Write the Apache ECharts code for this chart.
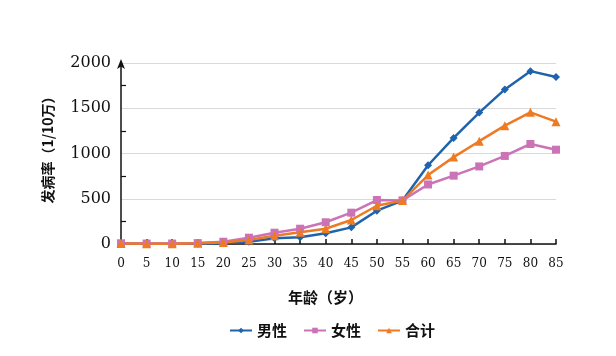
<!DOCTYPE html>
<html><head><meta charset="utf-8">
<script src="https://cdn.jsdelivr.net/npm/echarts@6/dist/echarts.min.js"></script>
<style>html,body{margin:0;padding:0;background:#fff}#c{width:616px;height:356px}</style>
</head><body><div id="c"></div>
<script>
const ages = ['0','5','10','15','20','25','30','35','40','45','50','55','60','65','70','75','80','85'];
const male   = [5, 3, 3, 4, 8, 25, 63, 74, 118, 184, 368, 480, 870, 1172, 1452, 1708, 1910, 1845];
const female = [8, 5, 5, 10, 25, 70, 125, 169, 240, 346, 486, 482, 658, 755, 857, 973, 1105, 1042];
const total  = [6, 4, 4, 7, 16, 44, 92, 129, 168, 265, 423, 480, 762, 960, 1136, 1308, 1455, 1352];
const yTicks = [0, 500, 1000, 1500, 2000];
const seriesNames = ['男性', '女性', '合计'];

const chart = echarts.init(document.getElementById('c'), null, {renderer: 'canvas'});
const serif = 'DejaVu Serif';
const cjk = '"Noto Sans CJK SC"';
chart.setOption({
  animation: false,
  backgroundColor: '#fff',
  color: ['#1F63AD', '#CB73B6', '#EE7A22'],
  grid: {left: 121, right: 60, top: 63, bottom: 112, containLabel: false},
  legend: {
    data: seriesNames, bottom: 13, left: 224, itemGap: 16,
    itemWidth: 22, itemHeight: 7,
    textStyle: {fontFamily: cjk, fontSize: 15, fontWeight: 'bold', color: '#111'}
  },
  xAxis: {
    type: 'category', data: ages, boundaryGap: false,
    name: '年龄（岁）', nameLocation: 'middle', nameGap: 46,
    nameTextStyle: {fontFamily: cjk, fontSize: 15, fontWeight: 'bold', color: '#111', padding: [0, 26, 0, 0]},
    axisLine: {lineStyle: {color: '#111', width: 1.5}},
    axisTick: {show: true, inside: true, length: 5, lineStyle: {color: '#111', width: 1.5}},
    axisLabel: {fontFamily: serif, fontSize: 12, color: '#111', margin: 14}
  },
  yAxis: {
    type: 'value', min: yTicks[0], max: yTicks[yTicks.length - 1], interval: 500,
    name: '发病率（1/10万）', nameLocation: 'middle', nameGap: 66, nameRotate: 90,
    nameTextStyle: {fontFamily: cjk, fontSize: 14, fontWeight: 'bold', color: '#111', padding: [0, 0, 0, 14]},
    axisLine: {show: true, symbol: ['none', 'arrow'], symbolSize: [6, 10], symbolOffset: [0, 4], lineStyle: {color: '#111', width: 1.5}},
    axisTick: {show: false, inside: true},
    minorTick: {show: true, splitNumber: 2, length: 5, lineStyle: {color: '#111', width: 1.2}},
    splitLine: {show: true, lineStyle: {color: '#d9d9d9', width: 1}},
    axisLabel: {fontFamily: serif, fontSize: 16, color: '#111', margin: 10, formatter: v => String(v)}
  },
  series: [
    {name: seriesNames[0], type: 'line', data: male, symbol: 'diamond', symbolSize: 8,
      lineStyle: {width: 2.5}},
    {name: seriesNames[1], type: 'line', data: female, symbol: 'rect', symbolSize: 8,
      lineStyle: {width: 2.5}},
    {name: seriesNames[2], type: 'line', data: total, symbol: 'triangle', symbolSize: 9,
      lineStyle: {width: 2.5}}
  ]
});
</script></body></html>
